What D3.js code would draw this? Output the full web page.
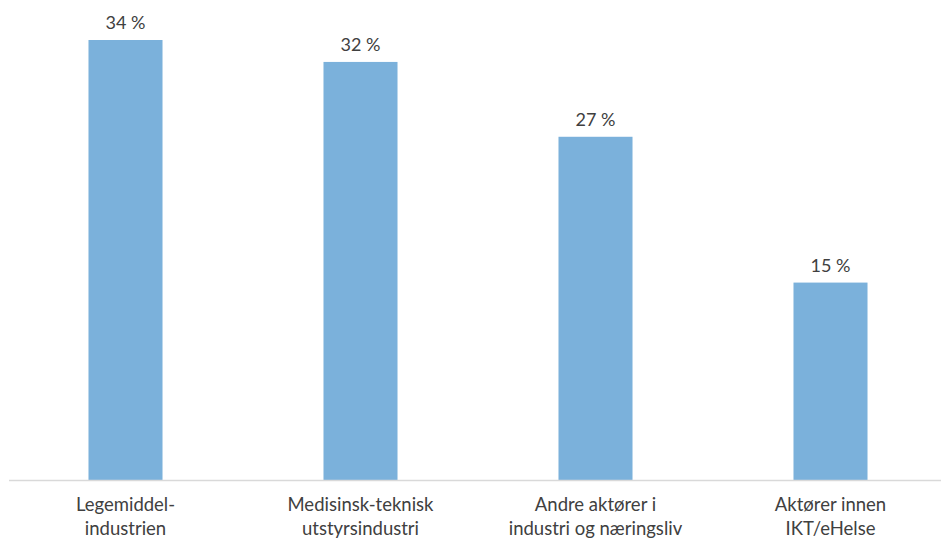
<!DOCTYPE html>
<html>
<head>
<meta charset="utf-8">
<script src="https://cdn.jsdelivr.net/npm/d3@7"></script>
<style>
  html, body { margin: 0; padding: 0; background: #ffffff; }
  svg { display: block; }
  text { font-family: Lato, "Open Sans", sans-serif; fill: #404040; }
</style>
</head>
<body>
<svg id="chart" width="941" height="538"></svg>
<script>
const categories = [
  ["Legemiddel-", "industrien"],
  ["Medisinsk-teknisk", "utstyrsindustri"],
  ["Andre aktører i", "industri og næringsliv"],
  ["Aktører innen", "IKT/eHelse"]
];
const categoryKeys = ["Legemiddelindustrien", "Medisinsk-teknisk utstyrsindustri", "Andre aktører i industri og næringsliv", "Aktører innen IKT/eHelse"];
const values = [34.1, 32.4, 26.6, 15.3];

const svg = d3.select("#chart");
const W = 941, H = 538;
const baseY = 480;

const x = d3.scaleBand()
  .domain(categoryKeys)
  .range([8, 948])
  .paddingInner(0.685)
  .paddingOuter(0.3425);

const y = d3.scaleLinear()
  .domain([0, 37.2])
  .range([baseY, 0]);

const data = categoryKeys.map((k, i) => ({ key: k, label: categories[i], value: values[i] }));

// bars
svg.append("g").selectAll("rect")
  .data(data)
  .join("rect")
  .attr("x", d => x(d.key))
  .attr("y", d => y(d.value))
  .attr("width", x.bandwidth())
  .attr("height", d => y(0) - y(d.value))
  .attr("fill", "#7bb1db");

// baseline
svg.append("line")
  .attr("x1", 9).attr("x2", W)
  .attr("y1", baseY + 0.5).attr("y2", baseY + 0.5)
  .attr("stroke", "#d9d9d9")
  .attr("stroke-width", 1.5);

// value labels
const fmt = d3.format(".0f");
svg.append("g").selectAll("text")
  .data(data)
  .join("text")
  .attr("x", d => x(d.key) + x.bandwidth() / 2)
  .attr("y", d => y(d.value) - 11)
  .attr("text-anchor", "middle")
  .style("font-size", "18px")
  .text(d => fmt(d.value) + " %");

// category labels
const lab = svg.append("g").selectAll("text")
  .data(data)
  .join("text")
  .attr("x", d => x(d.key) + x.bandwidth() / 2)
  .attr("y", 511)
  .attr("text-anchor", "middle")
  .style("font-size", "18.5px");
lab.selectAll("tspan")
  .data(d => d.label.map(t => ({ t, cx: x(d.key) + x.bandwidth() / 2 })))
  .join("tspan")
  .attr("x", d => d.cx)
  .attr("dy", (d, i) => i === 0 ? 0 : 24)
  .text(d => d.t);
</script>
</body>
</html>
